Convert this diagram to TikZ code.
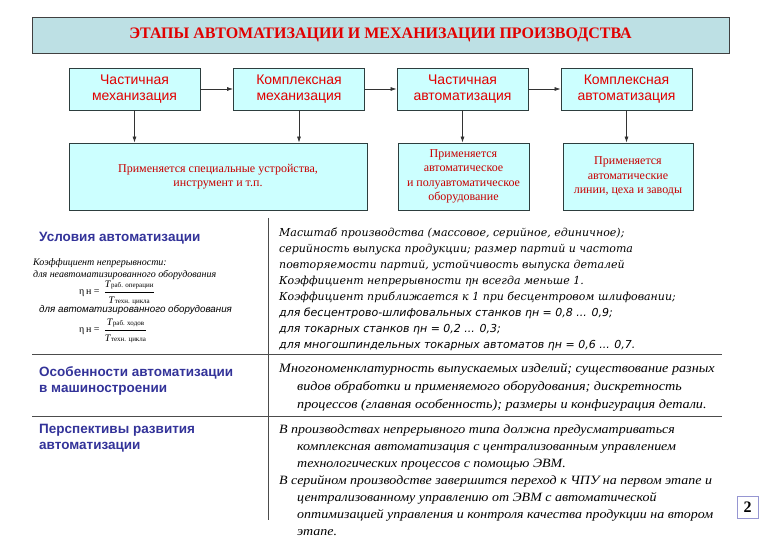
\documentclass[tikz,border=0pt]{standalone}
\usepackage{amsmath}
\usepackage{fontspec}
\setmainfont{Liberation Serif}
\setsansfont{Liberation Sans}
\newfontfamily\condserif{DejaVu Serif}
\newfontfamily\condsans{DejaVu Sans}
\newfontfamily\wideserif[FakeStretch=1.1]{Liberation Serif}
\usetikzlibrary{positioning,arrows.meta}

\definecolor{titlefill}{RGB}{189,224,228}
\definecolor{boxfill}{RGB}{204,255,255}
\definecolor{boxline}{RGB}{45,62,62}
\definecolor{stagered}{RGB}{225,0,0}
\definecolor{usered}{RGB}{200,0,0}
\definecolor{headblue}{RGB}{51,51,153}
\definecolor{pageframe}{RGB}{150,150,210}

\newcommand{\tpart}[1]{\textit{T}{\fontsize{7}{8}\selectfont #1}}

\begin{document}
\begin{tikzpicture}[
          x=1pt, y=-1pt,
          every node/.style={inner sep=0pt},
          stage/.style={draw=boxline, fill=boxfill, line width=0.8pt, minimum width=131pt, minimum height=42pt, align=center, font=\fontsize{14}{16}\selectfont\sffamily, text=stagered},
          applybox/.style={draw=boxline, fill=boxfill, line width=0.8pt, minimum height=67pt, align=center, font=\fontsize{12}{14.5}\selectfont, text=usered},
          flow/.style={-{Latex[length=6pt,width=4pt]}, line width=0.7pt, draw=black!80},
          rule/.style={line width=0.9pt, draw=black!70},
          head/.style={anchor=north west, align=left, font=\fontsize{13.5}{16}\selectfont\sffamily\bfseries, text=headblue},
          note/.style={anchor=north west, align=left}
      ]
        \useasboundingbox (0,0) rectangle (780,540);

        % title
        \node[draw=black!75, fill=titlefill, line width=0.9pt, minimum width=697pt, minimum height=36pt, font=\fontsize{16}{18}\selectfont\bfseries, text=stagered] (title) at (380.5,35) {ЭТАПЫ АВТОМАТИЗАЦИИ И МЕХАНИЗАЦИИ ПРОИЗВОДСТВА};

        % stages
        \node[stage] (pmech) at (134.5,89) {Частичная\\механизация};
        \node[stage] (kmech) at (299,89) {Комплексная\\механизация};
        \node[stage] (pauto) at (462.5,89) {Частичная\\автоматизация};
        \node[stage] (kauto) at (626.5,89) {Комплексная\\автоматизация};

        \node[applybox, minimum width=298pt] (tools) at (218,176.5) {Применяется специальные устройства,\\инструмент и т.п.};
        \node[applybox, minimum width=131pt] (semi) at (463.5,176.5) {Применяется\\автоматическое\\и полуавтоматическое\\оборудование};
        \node[applybox, minimum width=130pt] (lines) at (628,176.5) {Применяется\\автоматические\\линии, цеха и заводы};

        \draw[flow] (pmech) -- (kmech);
        \draw[flow] (kmech) -- (pauto);
        \draw[flow] (pauto) -- (kauto);
        \draw[flow] (pmech) -- (pmech |- tools.north);
        \draw[flow] (kmech) -- (kmech |- tools.north);
        \draw[flow] (pauto) -- (pauto |- semi.north);
        \draw[flow] (kauto) -- (kauto |- lines.north);

        % table
        \draw[rule] (32,354) -- (722,354);
        \draw[rule] (32,416) -- (722,416);
        \draw[rule] (268,218) -- (268,520);

        \node[head] (cond) at (39,232) {Условия автоматизации};
        \node[note, font=\fontsize{10}{12}\selectfont\itshape] (coef) at (33,258) {Коэффициент непрерывности:\\для неавтоматизированного оборудования};
        \node[anchor=west, font=\fontsize{10}{12}\selectfont] (eta1) at (79,293) {η\,н = \,$\dfrac{\text{\rule[-2pt]{0pt}{6pt}\tpart{раб. операции}}}{\text{\rule{0pt}{10pt}\tpart{техн. цикла}}}$};
        \node[note, font=\fontsize{9.8}{11}\selectfont\sffamily\itshape] (autoeq) at (39,305) {для автоматизированного оборудования};
        \node[anchor=west, font=\fontsize{10}{12}\selectfont] (eta2) at (79,331) {η\,н = \,$\dfrac{\text{\rule[-2pt]{0pt}{6pt}\tpart{раб. ходов}}}{\text{\rule{0pt}{10pt}\tpart{техн. цикла}}}$};

        \node[note, font=\fontsize{11}{16}\selectfont\condserif\itshape] (condtext) at (279,228) {Масштаб производства (массовое, серийное, единичное);\\
          серийность выпуска продукции; размер партий и частота\\
          повторяемости партий, устойчивость выпуска деталей\\
          Коэффициент непрерывности ηн всегда меньше 1.\\
          Коэффициент приближается к 1 при бесцентровом шлифовании;\\
          {\condsans\itshape для бесцентрово-шлифовальных станков ηн = 0,8 ... 0,9;}\\
          {\condsans\itshape для токарных станков ηн = 0,2 ... 0,3;}\\
          {\condsans\itshape для многошпиндельных токарных автоматов ηн = 0,6 ... 0,7.}};

        \node[head] (feat) at (39,366) {Особенности автоматизации\\в машиностроении};
        \node[note, font=\fontsize{12.9}{18}\selectfont\wideserif\itshape] (feattext) at (279,363) {Многономенклатурность выпускаемых изделий; существование разных\\
          \hspace*{18pt}видов обработки и применяемого оборудования; дискретность\\
          \hspace*{18pt}процессов (главная особенность); размеры и конфигурация детали.};

        \node[head] (persp) at (39,424) {Перспективы развития\\автоматизации};
        \node[note, font=\fontsize{12.7}{17}\selectfont\wideserif\itshape] (persptext) at (279,424) {В производствах непрерывного типа должна предусматриваться\\
          \hspace*{18pt}комплексная автоматизация с централизованным управлением\\
          \hspace*{18pt}технологических процессов с помощью ЭВМ.\\
          В серийном производстве завершится переход к ЧПУ на первом этапе и\\
          \hspace*{18pt}централизованному управлению от ЭВМ с автоматической\\
          \hspace*{18pt}оптимизацией управления и контроля качества продукции на втором\\
          \hspace*{18pt}этапе.};

        \node[draw=pageframe, line width=0.8pt, minimum width=21pt, minimum height=22pt, font=\fontsize{16}{16}\selectfont\bfseries] (page) at (747.5,507) {2};
      \end{tikzpicture}
\end{document}
